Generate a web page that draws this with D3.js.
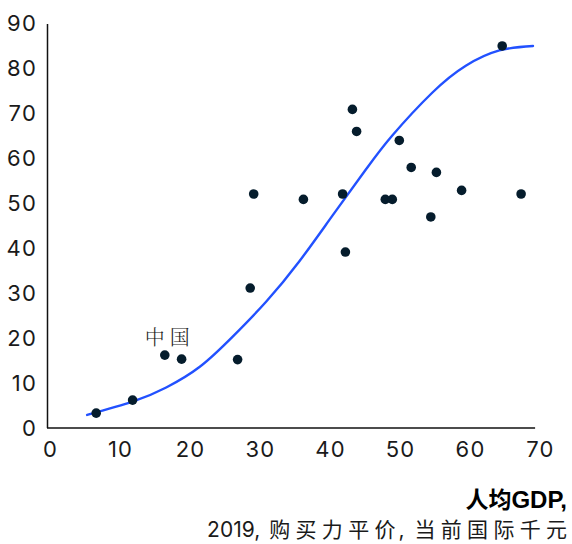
<!DOCTYPE html>
<html>
<head>
<meta charset="utf-8">
<script src="https://cdn.jsdelivr.net/npm/d3@7"></script>
<style>
  html, body { margin: 0; padding: 0; background: #fff; }
  svg { display: block; }
</style>
</head>
<body>
<svg id="chart" width="572" height="544"></svg>
<script>
// ---- data ----
const gdpValues   = [6.6, 11.8, 16.4, 18.8, 26.8, 28.6, 29.1, 36.2, 41.8, 42.2, 43.2, 43.8, 47.9, 48.9, 49.9, 51.6, 55.2, 54.4, 58.8, 67.3, 64.6];
const yValues     = [3.3, 6.2, 16.2, 15.3, 15.2, 31.1, 52.0, 50.8, 52.0, 39.1, 70.8, 65.9, 50.8, 50.8, 63.9, 57.9, 56.8, 46.9, 52.8, 52.0, 84.9];
const fitX        = [5.3, 11.9, 16.6, 21.4, 26.1, 30.9, 35.6, 40.4, 45.2, 48.9, 54.6, 59.4, 64.2, 69.0];
const fitY        = [2.9, 5.9, 9.0, 13.6, 20.3, 28.1, 37.0, 47.3, 57.6, 65.0, 74.5, 80.5, 83.9, 84.9];
const xTicks      = [0, 10, 20, 30, 40, 50, 60, 70];
const yTicks      = [0, 10, 20, 30, 40, 50, 60, 70, 80, 90];
const chinaIndex  = 2;
const chinaLabel  = "中国";
const titleLine1  = ["人均", "GDP,"];
const titleLine2  = ["2019,", "购买力平价", ",", "当前国际千元"];

const svg = d3.select("#chart");
const x = d3.scaleLinear().domain([0, 70]).range([50, 540]);
const y = d3.scaleLinear().domain([0, 90]).range([428, 23]);

const numFont = "Inter, 'Liberation Sans', sans-serif";
const cjkFont = "'Noto Sans CJK SC', sans-serif";
const serifCjk = "'Noto Serif CJK SC', 'Noto Sans CJK SC', serif";
const ink = "#1a1a1a";

// axes (labels only)
const xAxis = d3.axisBottom(x).tickValues(xTicks).tickSize(0).tickPadding(0);
const gx = svg.append("g").attr("transform", "translate(0,441)").call(xAxis);
gx.select(".domain").remove();
gx.selectAll("text")
  .attr("dy", "0.71em")
  .attr("fill", ink)
  .style("font-family", numFont)
  .style("font-size", "22px")
  .style("letter-spacing", "1.2px");

const yAxis = d3.axisLeft(y).tickValues(yTicks).tickSize(0).tickPadding(0);
const gy = svg.append("g").attr("transform", "translate(37,0)").call(yAxis);
gy.select(".domain").remove();
gy.selectAll("text")
  .attr("dy", "0.36em")
  .attr("fill", ink)
  .style("font-family", numFont)
  .style("font-size", "22px")
  .style("letter-spacing", "1.2px");

// axis lines
svg.append("line")
  .attr("x1", 47.5).attr("x2", 47.5)
  .attr("y1", 24).attr("y2", y(0))
  .attr("stroke", "#111").attr("stroke-width", 1.5);
svg.append("line")
  .attr("x1", 47).attr("x2", x(69.3))
  .attr("y1", y(0)).attr("y2", y(0))
  .attr("stroke", "#111").attr("stroke-width", 1.5);

// fitted curve
const fit = fitX.map((v, i) => [v, fitY[i]]);
svg.append("path")
  .datum(fit)
  .attr("fill", "none")
  .attr("stroke", "#2251ff")
  .attr("stroke-width", 2.4)
  .attr("stroke-linecap", "round")
  .attr("d", d3.line().x(d => x(d[0])).y(d => y(d[1])).curve(d3.curveNatural));

// points
const pts = gdpValues.map((v, i) => ({ gx: v, gy: yValues[i] }));
svg.append("g").selectAll("circle")
  .data(pts)
  .join("circle")
  .attr("cx", d => x(d.gx))
  .attr("cy", d => y(d.gy))
  .attr("r", 4.8)
  .attr("fill", "#051c2c");

// China label
svg.append("text")
  .attr("x", x(gdpValues[chinaIndex]) + 5)
  .attr("y", y(yValues[chinaIndex]) - 10)
  .attr("text-anchor", "middle")
  .attr("fill", ink)
  .style("font-family", serifCjk)
  .style("font-weight", 300)
  .style("font-size", "20px")
  .style("letter-spacing", "5px")
  .text(chinaLabel);

// axis title line 1
const t1 = svg.append("text")
  .attr("x", 567).attr("y", 508)
  .attr("text-anchor", "end")
  .attr("fill", "#000")
  .style("font-weight", 700);
t1.append("tspan").style("font-family", cjkFont).style("font-size", "23px").text(titleLine1[0]);
t1.append("tspan").style("font-family", "'Liberation Sans', Arial, sans-serif").style("font-size", "24px").text(titleLine1[1]);

// axis title line 2: pieces laid out from the right edge, CJK chars at a wide pitch
const fs2 = 21, pitch = 26.3, base2 = 537;
const kinds = ["num", "cjk", "num", "cjk"];
const gapAfter = [9, 3, 10, 0];
const line2 = svg.append("g");
let right = 567;
for (let i = titleLine2.length - 1; i >= 0; i--) {
  const txt = titleLine2[i];
  let start;
  if (kinds[i] === "cjk") {
    const chars = Array.from(txt);
    start = right - ((chars.length - 1) * pitch + fs2);
    chars.forEach((c, k) => {
      line2.append("text")
        .attr("x", start + k * pitch)
        .attr("y", base2)
        .attr("fill", ink)
        .style("font-size", fs2 + "px")
        .style("font-family", cjkFont)
        .text(c);
    });
  } else {
    const t = line2.append("text")
      .attr("y", base2)
      .attr("fill", ink)
      .style("font-size", fs2 + "px")
      .style("font-family", numFont)
      .text(txt);
    start = right - t.node().getComputedTextLength();
    t.attr("x", start);
  }
  if (i > 0) right = start - gapAfter[i - 1];
}
</script>
</body>
</html>
